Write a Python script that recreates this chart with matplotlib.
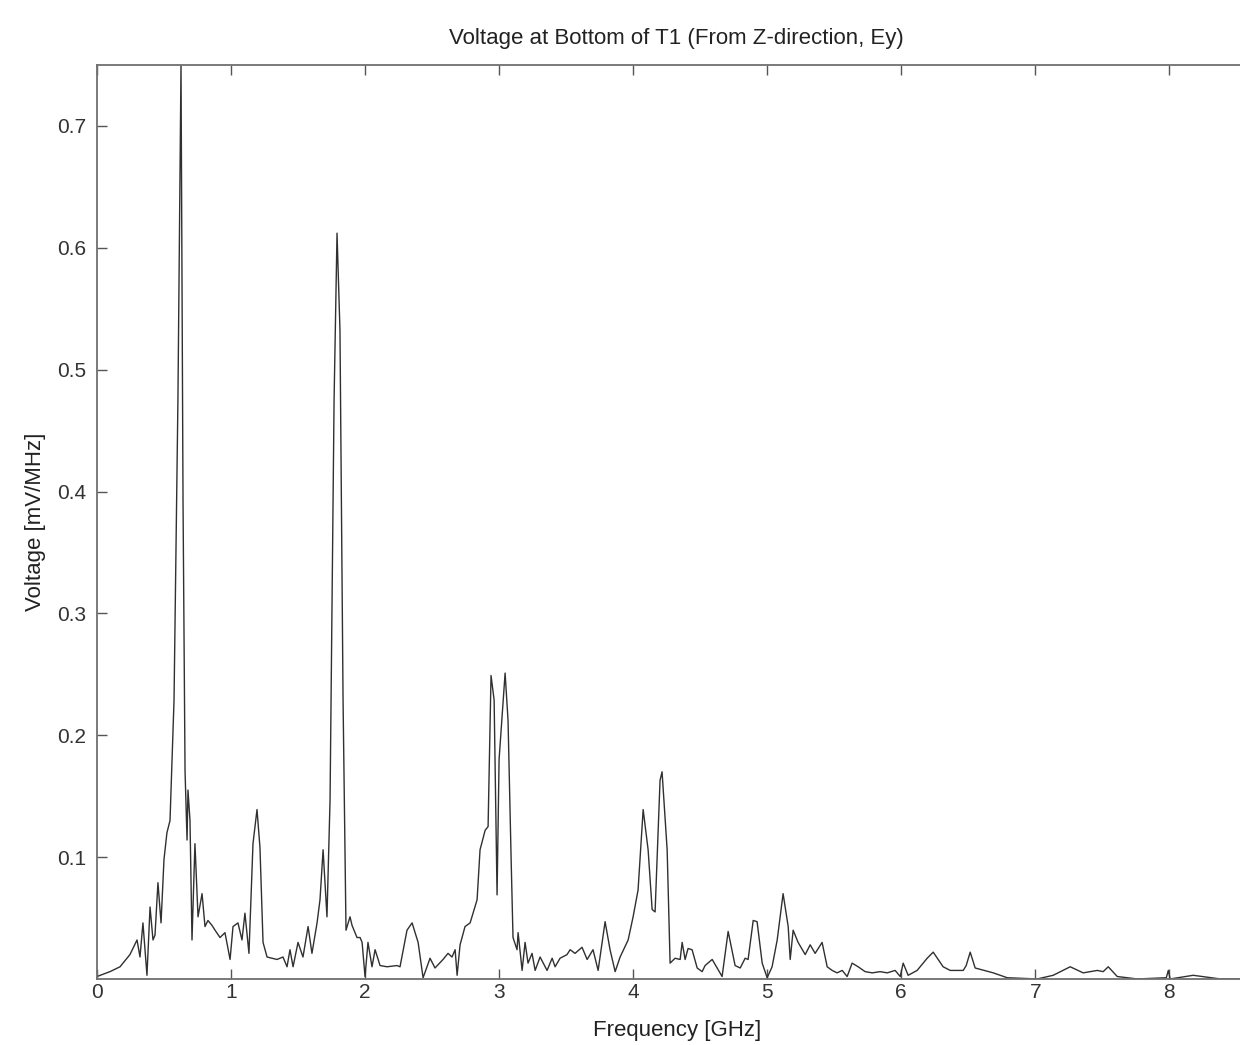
import numpy as np
import matplotlib
matplotlib.use("Agg")
import matplotlib.pyplot as plt

plt.rcParams['font.family'] = ['Liberation Sans', 'DejaVu Sans']

# spectrum (frequency in GHz, voltage in mV/MHz)
freq = [0.000, 0.097, 0.172, 0.194, 0.246, 0.299, 0.321, 0.343, 0.373, 0.396,
        0.418, 0.433, 0.455, 0.478, 0.500, 0.522, 0.545, 0.575, 0.604, 0.627,
        0.642, 0.657, 0.672, 0.679, 0.694, 0.709, 0.731, 0.754, 0.784, 0.806,
        0.828, 0.858, 0.881, 0.918, 0.955, 0.993, 1.015, 1.052, 1.082, 1.104,
        1.134, 1.164, 1.194, 1.216, 1.239, 1.269, 1.306, 1.343, 1.388, 1.418,
        1.440, 1.463, 1.500, 1.537, 1.575, 1.604, 1.642, 1.664, 1.687, 1.716,
        1.739, 1.769, 1.791, 1.813, 1.836, 1.858, 1.888, 1.903, 1.940, 1.963,
        1.978, 2.000, 2.022, 2.052, 2.075, 2.112, 2.164, 2.239, 2.261, 2.313,
        2.351, 2.396, 2.433, 2.485, 2.522, 2.582, 2.619, 2.649, 2.672, 2.687,
        2.709, 2.746, 2.784, 2.836, 2.858, 2.896, 2.918, 2.940, 2.963, 2.985,
        3.000, 3.045, 3.067, 3.090, 3.104, 3.134, 3.142, 3.172, 3.194, 3.216,
        3.246, 3.269, 3.306, 3.358, 3.396, 3.418, 3.455, 3.507, 3.530, 3.567,
        3.619, 3.657, 3.701, 3.739, 3.791, 3.828, 3.866, 3.903, 3.963, 4.000,
        4.037, 4.075, 4.112, 4.142, 4.164, 4.201, 4.216, 4.254, 4.276, 4.313,
        4.351, 4.366, 4.388, 4.410, 4.440, 4.478, 4.515, 4.537, 4.590, 4.627,
        4.664, 4.709, 4.761, 4.799, 4.836, 4.858, 4.896, 4.925, 4.963, 5.000,
        5.037, 5.075, 5.119, 5.157, 5.172, 5.194, 5.231, 5.284, 5.321, 5.358,
        5.410, 5.448, 5.485, 5.522, 5.560, 5.597, 5.634, 5.679, 5.731, 5.784,
        5.843, 5.896, 5.955, 5.993, 6.015, 6.052, 6.119, 6.194, 6.239, 6.313,
        6.366, 6.463, 6.485, 6.515, 6.552, 6.687, 6.791, 7.015, 7.134, 7.261,
        7.358, 7.463, 7.507, 7.545, 7.612, 7.761, 7.978, 7.993, 8.007, 8.179,
        8.381, 8.530, 8.650]
volt = [0.002, 0.006, 0.010, 0.013, 0.020, 0.032, 0.018, 0.046, 0.003, 0.059,
        0.032, 0.036, 0.079, 0.046, 0.098, 0.120, 0.130, 0.229, 0.475, 0.750,
        0.393, 0.171, 0.114, 0.155, 0.130, 0.032, 0.111, 0.051, 0.070, 0.043,
        0.048, 0.044, 0.040, 0.034, 0.038, 0.016, 0.043, 0.046, 0.032, 0.054,
        0.021, 0.111, 0.139, 0.108, 0.030, 0.018, 0.017, 0.016, 0.018, 0.010,
        0.024, 0.010, 0.030, 0.018, 0.043, 0.021, 0.046, 0.065, 0.106, 0.051,
        0.147, 0.475, 0.612, 0.532, 0.229, 0.040, 0.051, 0.044, 0.034, 0.034,
        0.030, 0.002, 0.030, 0.010, 0.024, 0.011, 0.010, 0.011, 0.010, 0.040,
        0.046, 0.030, 0.001, 0.017, 0.009, 0.016, 0.021, 0.018, 0.024, 0.003,
        0.028, 0.043, 0.046, 0.065, 0.106, 0.122, 0.125, 0.249, 0.229, 0.069,
        0.180, 0.251, 0.212, 0.098, 0.034, 0.024, 0.038, 0.007, 0.030, 0.013,
        0.021, 0.007, 0.018, 0.007, 0.017, 0.010, 0.017, 0.020, 0.024, 0.021,
        0.026, 0.016, 0.024, 0.007, 0.047, 0.024, 0.006, 0.018, 0.032, 0.051,
        0.073, 0.139, 0.106, 0.057, 0.055, 0.163, 0.170, 0.106, 0.013, 0.017,
        0.016, 0.030, 0.016, 0.025, 0.024, 0.009, 0.006, 0.011, 0.016, 0.009,
        0.002, 0.039, 0.011, 0.009, 0.017, 0.016, 0.048, 0.047, 0.013, 0.001,
        0.010, 0.032, 0.070, 0.043, 0.016, 0.040, 0.030, 0.020, 0.028, 0.021,
        0.030, 0.010, 0.007, 0.005, 0.007, 0.002, 0.013, 0.010, 0.006, 0.005,
        0.006, 0.005, 0.007, 0.002, 0.013, 0.003, 0.007, 0.017, 0.022, 0.010,
        0.007, 0.007, 0.011, 0.022, 0.009, 0.005, 0.001, 0.000, 0.003, 0.010,
        0.005, 0.007, 0.006, 0.010, 0.002, 0.000, 0.001, 0.007, 0.000, 0.003,
        0.000, 0.000, 0.000]

xticks = [0, 1, 2, 3, 4, 5, 6, 7, 8]
yticks = [0.1, 0.2, 0.3, 0.4, 0.5, 0.6, 0.7]

fig = plt.figure(figsize=(12.4, 10.45), dpi=100)
# axes run past the right edge of the picture, like the cropped original
ax = fig.add_axes([0.0782, 0.0632, 0.935, 0.8746])

ax.plot(freq, volt, color='#303030', lw=1.0)

ax.set_xlim(0, 8.65)
ax.set_ylim(0, 0.75)
ax.set_xticks(xticks)
ax.set_yticks(yticks)
ax.set_yticklabels([str(t) for t in yticks])

ax.tick_params(direction='in', length=7, width=1, colors='#555555',
               labelcolor='#333333', labelsize=15, top=True, right=True)
ax.tick_params(axis='x', pad=3)
ax.tick_params(axis='y', pad=8)
for s in ax.spines.values():
    s.set_color('#707070')
    s.set_linewidth(1.3)

ax.set_title('Voltage at Bottom of T1 (From Z-direction, Ey)', fontsize=16,
             color='#222222', pad=15)
ax.set_xlabel('Frequency [GHz]', fontsize=16, color='#222222', labelpad=13)
ax.set_ylabel('Voltage [mV/MHz]', fontsize=16, color='#222222', labelpad=8)

fig.savefig('out.png', dpi=100, facecolor='white')
